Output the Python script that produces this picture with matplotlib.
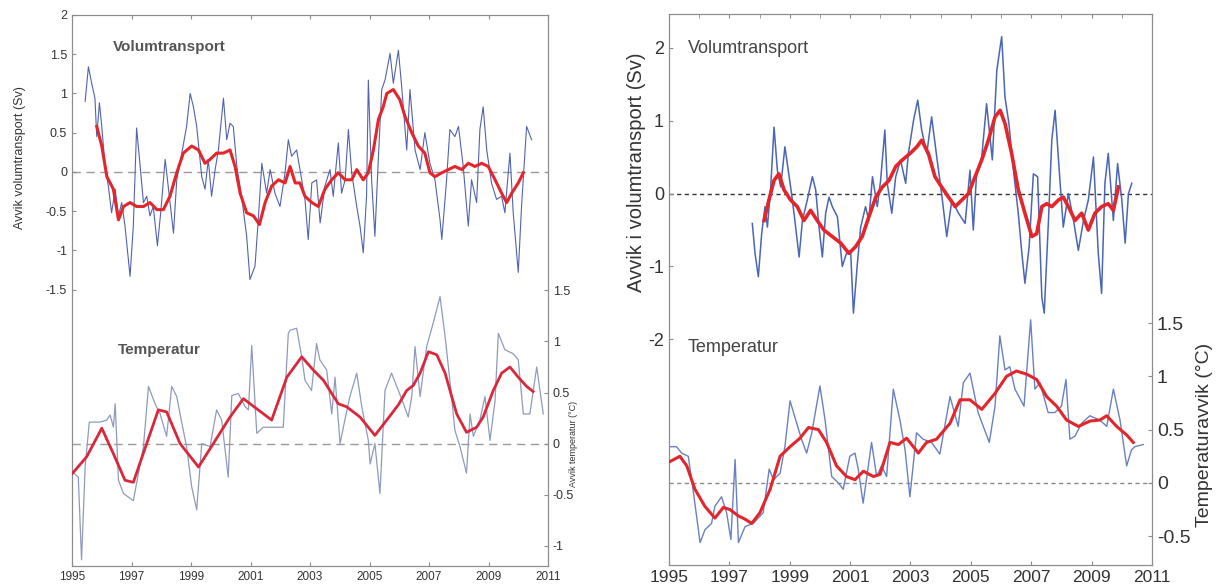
import matplotlib.pyplot as plt
from matplotlib.ticker import MultipleLocator

plt.rcParams['font.family'] = ['Liberation Sans', 'DejaVu Sans']

# ---- left panel data ----
vol_l_years = [1995.44, 1995.55, 1995.66, 1995.77, 1995.83, 1995.92, 1996.00, 1996.11, 1996.22, 1996.33,
               1996.45, 1996.56, 1996.67, 1996.78, 1996.95, 1997.06, 1997.17, 1997.29, 1997.40, 1997.51,
               1997.62, 1997.73, 1997.87, 1997.98, 1998.13, 1998.27, 1998.41, 1998.52, 1998.69, 1998.85,
               1998.97, 1999.08, 1999.19, 1999.36, 1999.47, 1999.58, 1999.69, 1999.81, 1999.92, 2000.09,
               2000.20, 2000.31, 2000.42, 2000.54, 2000.70, 2000.87, 2000.98, 2001.15, 2001.26, 2001.38,
               2001.54, 2001.66, 2001.82, 2001.99, 2002.16, 2002.27, 2002.38, 2002.55, 2002.72,
               2002.83, 2002.94, 2003.06, 2003.22, 2003.34, 2003.50, 2003.67, 2003.78, 2003.95, 2004.06,
               2004.18, 2004.29, 2004.40, 2004.57, 2004.68, 2004.79, 2004.90, 2004.96, 2005.07, 2005.18,
               2005.30, 2005.41, 2005.52, 2005.69, 2005.80, 2005.97, 2006.08, 2006.25, 2006.36, 2006.53,
               2006.70, 2006.86, 2007.03, 2007.20, 2007.37, 2007.43, 2007.59, 2007.70, 2007.87, 2007.99,
               2008.15, 2008.32, 2008.43, 2008.60, 2008.71, 2008.82, 2008.94, 2009.10, 2009.27, 2009.44,
               2009.55, 2009.72, 2009.83, 2010.00, 2010.11, 2010.28, 2010.45]
vol_l = [0.9, 1.34, 1.13, 0.94, 0.45, 0.88, 0.58, 0.07, -0.18, -0.52,
         -0.22, -0.56, -0.39, -0.69, -1.33, -0.69, 0.56, 0.07, -0.39, -0.31,
         -0.56, -0.44, -0.94, -0.52, 0.16, -0.31, -0.78, -0.10, 0.24, 0.58,
         1.0, 0.83, 0.58, -0.06, -0.22, 0.16, -0.31, 0.03, 0.28, 0.94,
         0.41, 0.62, 0.58, 0.07, -0.31, -0.82, -1.37, -1.2, -0.61, 0.11,
         -0.27, 0.03, -0.27, -0.44, -0.01, 0.41, 0.2, 0.28, -0.10,
         -0.35, -0.86, -0.14, -0.1, -0.65, -0.18, 0.03, -0.31, 0.37, -0.27,
         -0.1, 0.54, -0.01, -0.44, -0.69, -1.03, -0.31, 1.17, -0.10, -0.82,
         0.2, 1.05, 1.17, 1.51, 1.13, 1.55, 1.09, 0.28, 1.05, 0.28,
         0.03, 0.5, 0.11, -0.1, -0.61, -0.86, -0.1, 0.54, 0.45, 0.58,
         0.07, -0.69, -0.1, -0.39, 0.54, 0.83, 0.28, -0.14, -0.35, -0.31,
         -0.52, 0.24, -0.52, -1.28, -0.44, 0.58, 0.41]

vol_l_smooth_years = [1995.83, 1996.00, 1996.17, 1996.39, 1996.56, 1996.73, 1996.95, 1997.17, 1997.40, 1997.62,
                      1997.85, 1998.07, 1998.29, 1998.52, 1998.74, 1999.02, 1999.25, 1999.47, 1999.64, 1999.86,
                      2000.09, 2000.31, 2000.48, 2000.65, 2000.87, 2001.10, 2001.30, 2001.49, 2001.71, 2001.94,
                      2002.16, 2002.33, 2002.50, 2002.66, 2002.83, 2003.06, 2003.28, 2003.50, 2003.73, 2003.95,
                      2004.18, 2004.40, 2004.57, 2004.79, 2004.96, 2005.13, 2005.30, 2005.46, 2005.58, 2005.80,
                      2006.02, 2006.19, 2006.42, 2006.64, 2006.86, 2007.03, 2007.20, 2007.43, 2007.65, 2007.87,
                      2008.10, 2008.32, 2008.54, 2008.77, 2008.99, 2009.22, 2009.44, 2009.61, 2009.78, 2010.00,
                      2010.17]
vol_l_smooth = [0.58, 0.33, -0.06, -0.22, -0.61, -0.44, -0.39, -0.44, -0.44, -0.39,
                -0.48, -0.48, -0.31, -0.01, 0.24, 0.33, 0.28, 0.11, 0.16, 0.24,
                0.24, 0.28, 0.07, -0.27, -0.52, -0.56, -0.67, -0.39, -0.18, -0.1,
                -0.14, 0.07, -0.14, -0.14, -0.31, -0.39, -0.44, -0.22, -0.1, -0.01,
                -0.1, -0.1, 0.03, -0.1, -0.01, 0.28, 0.67, 0.83, 1.0, 1.05,
                0.92, 0.71, 0.5, 0.33, 0.24, -0.01, -0.06, -0.01, 0.03, 0.07,
                0.03, 0.11, 0.07, 0.11, 0.07, -0.1, -0.27, -0.39, -0.27, -0.14,
                -0.01]

temp_l_years = [1995.02, 1995.21, 1995.32, 1995.44, 1995.58, 1995.94, 1996.17, 1996.28, 1996.39, 1996.45,
                1996.56, 1996.73, 1997.06, 1997.40, 1997.57, 1997.79, 1997.96, 1998.18, 1998.35, 1998.52,
                1998.63, 1998.85, 1999.02, 1999.19, 1999.36, 1999.64, 1999.86, 2000.03, 2000.25, 2000.37,
                2000.59, 2000.82, 2000.93, 2001.04, 2001.21, 2001.43, 2001.88, 2002.10, 2002.27,
                2002.33, 2002.55, 2002.72, 2002.83, 2003.05, 2003.22, 2003.33, 2003.56, 2003.73, 2003.84,
                2004.01, 2004.17, 2004.34, 2004.57, 2004.74, 2004.96, 2005.02, 2005.18, 2005.35, 2005.52,
                2005.74, 2005.97, 2006.14, 2006.30, 2006.42, 2006.53, 2006.70, 2006.92, 2007.14, 2007.37,
                2007.54, 2007.70, 2007.87, 2008.04, 2008.26, 2008.38, 2008.49, 2008.71, 2008.88, 2009.05,
                2009.22, 2009.33, 2009.55, 2009.83, 2010.00, 2010.17, 2010.39, 2010.62, 2010.84]
temp_l = [-0.28, -0.33, -1.14, -0.23, 0.21, 0.21, 0.23, 0.28, 0.16, 0.39,
          -0.36, -0.49, -0.56, -0.03, 0.56, 0.39, 0.29, 0.07, 0.56, 0.46,
          0.29, -0.03, -0.42, -0.65, 0.0, -0.03, 0.33, 0.23, -0.33, 0.47,
          0.49, 0.36, 0.33, 0.96, 0.1, 0.16, 0.16, 0.16, 1.08,
          1.11, 1.13, 0.85, 0.62, 0.52, 0.98, 0.82, 0.72, 0.29, 0.65,
          0.0, 0.23, 0.46, 0.69, 0.36, 0.03, -0.2, 0.0, -0.49, 0.52,
          0.69, 0.52, 0.39, 0.26, 0.46, 0.95, 0.46, 0.95, 1.18, 1.44,
          1.05, 0.62, 0.13, -0.03, -0.29, 0.29, 0.07, 0.23, 0.46, 0.03,
          0.42, 1.08, 0.92, 0.88, 0.82, 0.29, 0.29, 0.75, 0.29]

temp_l_smooth_years = [1995.02, 1995.49, 1996.00, 1996.39, 1996.78, 1997.06, 1997.51, 1997.90, 1998.18, 1998.63,
                       1999.25, 1999.75, 2000.31, 2000.76, 2001.21, 2001.71, 2002.22, 2002.72, 2003.11, 2003.45,
                       2003.95, 2004.23, 2004.68, 2005.18, 2005.58, 2005.97, 2006.25, 2006.47, 2006.70, 2006.98,
                       2007.26, 2007.54, 2007.93, 2008.26, 2008.60, 2008.82, 2009.16, 2009.44, 2009.72, 2010.00,
                       2010.28, 2010.50]
temp_l_smooth = [-0.29, -0.13, 0.15, -0.1, -0.36, -0.38, 0.0, 0.33, 0.31, 0.0,
                 -0.23, 0.0, 0.26, 0.44, 0.34, 0.23, 0.65, 0.85, 0.72, 0.62,
                 0.39, 0.36, 0.26, 0.08, 0.23, 0.38, 0.52, 0.57, 0.69, 0.9,
                 0.87, 0.69, 0.29, 0.11, 0.16, 0.26, 0.52, 0.69, 0.75, 0.65,
                 0.56, 0.51]

# ---- right panel data ----
vol_r_years = [1997.76, 1997.85, 1997.96, 1998.07, 1998.18, 1998.26, 1998.37, 1998.48, 1998.59, 1998.70,
               1998.84, 1998.95, 1999.06, 1999.17, 1999.31, 1999.42, 1999.58, 1999.75, 1999.86, 1999.97,
               2000.08, 2000.19, 2000.30, 2000.41, 2000.58, 2000.74, 2000.91, 2001.02, 2001.11, 2001.24,
               2001.35, 2001.51, 2001.62, 2001.74, 2001.90, 2002.01, 2002.15, 2002.23, 2002.38, 2002.51,
               2002.67, 2002.84,
               2002.93, 2003.10, 2003.24, 2003.37, 2003.54, 2003.70, 2003.87, 2004.03, 2004.20, 2004.37,
               2004.59, 2004.81, 2004.97, 2005.08, 2005.19, 2005.36, 2005.52, 2005.71, 2005.86, 2006.02,
               2006.13, 2006.26, 2006.41, 2006.57, 2006.68, 2006.79, 2006.93, 2007.07, 2007.21, 2007.35,
               2007.43, 2007.57, 2007.68, 2007.79, 2007.95, 2008.06, 2008.23, 2008.40, 2008.56, 2008.73,
               2008.89, 2009.06, 2009.22, 2009.33, 2009.44, 2009.55, 2009.72, 2009.86, 2010.00, 2010.11,
               2010.22, 2010.33]
vol_r = [-0.41, -0.82, -1.14, -0.55, -0.18, -0.46, 0.09, 0.91, 0.32, 0.09,
         0.64, 0.32, 0.0, -0.37, -0.87, -0.37, -0.09, 0.23, 0.05, -0.46,
         -0.87, -0.27, -0.05, -0.18, -0.32, -1.0, -0.78, -0.82, -1.64, -0.96,
         -0.46, -0.18, -0.37, 0.23, -0.18, 0.18, 0.87, 0.14, -0.27, 0.23,
         0.46, 0.14,
         0.55, 1.0, 1.28, 0.87, 0.55, 1.05, 0.5, 0.0, -0.59, -0.09,
         -0.27, -0.41, 0.32, -0.5, 0.27, 0.5, 1.23, 0.46, 1.69, 2.15,
         1.32, 0.96, 0.32, -0.27, -0.78, -1.23, -0.73, 0.27, 0.23, -1.42,
         -1.64, -0.37, 0.73, 1.14, 0.18, -0.46, 0.0, -0.37, -0.78, -0.37,
         -0.09, 0.5, -0.82, -1.37, 0.14, 0.55, -0.37, 0.41, -0.09, -0.68,
         0.0, 0.14]

vol_r_smooth_years = [1998.15, 1998.31, 1998.48, 1998.64, 1998.81, 1999.03, 1999.25, 1999.47, 1999.69, 1999.91,
                      2000.13, 2000.41, 2000.69, 2000.96, 2001.18, 2001.40, 2001.62, 2001.85, 2002.07, 2002.29,
                      2002.51, 2002.73,
                      2002.99, 2003.21, 2003.37, 2003.59, 2003.81, 2004.03, 2004.26, 2004.48, 2004.70, 2004.92,
                      2005.14, 2005.36, 2005.58, 2005.80, 2005.97, 2006.13, 2006.35, 2006.57, 2006.79, 2007.02,
                      2007.18, 2007.35, 2007.51, 2007.68, 2007.90, 2008.06, 2008.23, 2008.45, 2008.67, 2008.89,
                      2009.11, 2009.33, 2009.55, 2009.72, 2009.89]
vol_r_smooth = [-0.37, -0.09, 0.18, 0.27, 0.05, -0.09, -0.18, -0.37, -0.23, -0.37,
                -0.5, -0.59, -0.68, -0.82, -0.73, -0.59, -0.32, -0.05, 0.09, 0.18,
                0.37, 0.46,
                0.55, 0.64, 0.73, 0.55, 0.23, 0.09, -0.05, -0.18, -0.09, 0.0,
                0.23, 0.46, 0.73, 1.05, 1.14, 0.96, 0.55, 0.05, -0.27, -0.59,
                -0.55, -0.18, -0.14, -0.18, -0.09, -0.05, -0.18, -0.37, -0.27, -0.5,
                -0.27, -0.18, -0.14, -0.23, 0.09]

temp_r_years = [1995.03, 1995.25, 1995.42, 1995.64, 1995.81, 1996.03, 1996.19, 1996.41, 1996.52, 1996.74,
                1996.91, 1997.05, 1997.19, 1997.30, 1997.52, 1997.79, 1998.12, 1998.32, 1998.46, 1998.68,
                1998.84, 1999.01, 1999.23, 1999.39, 1999.56, 1999.73, 2000.00, 2000.17, 2000.39, 2000.61,
                2000.77, 2000.99, 2001.16, 2001.27, 2001.43, 2001.54, 2001.71, 2001.88, 2002.04, 2002.21,
                2002.43, 2002.65, 2002.82,
                2002.98, 2003.20, 2003.42, 2003.70, 2003.97, 2004.31, 2004.58, 2004.75, 2004.97, 2005.24,
                2005.61, 2005.80, 2005.96, 2006.13, 2006.29, 2006.46, 2006.76, 2006.98, 2007.12, 2007.29,
                2007.56, 2007.78, 2008.00, 2008.15, 2008.28, 2008.45, 2008.67, 2008.94, 2009.27, 2009.50,
                2009.72, 2009.94, 2010.16, 2010.32, 2010.43, 2010.71]
temp_r = [0.34, 0.34, 0.28, 0.25, -0.09, -0.56, -0.44, -0.38, -0.22, -0.13,
          -0.28, -0.53, 0.22, -0.56, -0.41, -0.38, -0.28, 0.13, 0.03, 0.09,
          0.34, 0.77, 0.56, 0.41, 0.28, 0.47, 0.91, 0.59, 0.06, 0.0,
          -0.06, 0.25, 0.28, 0.13, -0.19, 0.03, 0.38, 0.06, 0.16, 0.06,
          0.88, 0.59, 0.31,
          -0.13, 0.47, 0.41, 0.38, 0.27, 0.81, 0.53, 0.94, 1.03, 0.66,
          0.38, 0.72, 1.38, 1.06, 1.09, 0.88, 0.72, 1.53, 0.88, 0.94,
          0.66, 0.66, 0.72, 0.97, 0.41, 0.44, 0.56, 0.63, 0.59, 0.53,
          0.88, 0.59, 0.16, 0.31, 0.34, 0.36]

temp_r_smooth_years = [1995.03, 1995.36, 1995.59, 1995.86, 1996.19, 1996.52, 1996.80, 1997.02, 1997.30, 1997.52,
                       1997.74, 1998.01, 1998.35, 1998.68, 1999.01, 1999.34, 1999.62, 1999.95, 2000.22, 2000.55,
                       2000.88, 2001.16, 2001.44, 2001.77, 2001.99, 2002.32, 2002.60, 2002.87,
                       2003.26, 2003.53, 2003.86, 2004.31, 2004.64, 2004.97, 2005.36, 2005.80, 2006.18, 2006.51,
                       2006.85, 2007.18, 2007.51, 2007.84, 2008.17, 2008.56, 2008.94, 2009.27, 2009.50, 2009.83,
                       2010.16, 2010.38]
temp_r_smooth = [0.2, 0.25, 0.16, -0.06, -0.22, -0.33, -0.23, -0.25, -0.31, -0.34,
                 -0.38, -0.28, -0.06, 0.25, 0.34, 0.42, 0.52, 0.5, 0.38, 0.16,
                 0.06, 0.03, 0.11, 0.06, 0.08, 0.38, 0.36, 0.42,
                 0.28, 0.38, 0.41, 0.56, 0.78, 0.78, 0.69, 0.84, 1.0, 1.05,
                 1.02, 0.97, 0.81, 0.72, 0.59, 0.53, 0.58, 0.59, 0.63, 0.53,
                 0.45, 0.38]

year_ticks = [1995, 1997, 1999, 2001, 2003, 2005, 2007, 2009, 2011]
vol_l_ticks = [-1.5, -1, -0.5, 0, 0.5, 1, 1.5, 2]
temp_l_ticks = [-1, -0.5, 0, 0.5, 1, 1.5]
vol_r_ticks = [-2, -1, 0, 1, 2]
temp_r_ticks = [-0.5, 0, 0.5, 1, 1.5]

RED = '#e3262b'
SPINE = '#8c8c8c'


def fmt(v):
    # 1.5 -> "1.5", 1.0 -> "1"
    return ('%g' % v)


def style_axes(ax, size, color):
    for s in ax.spines.values():
        s.set_color(SPINE)
    ax.tick_params(direction='in', colors=SPINE, labelcolor=color, labelsize=size, length=3)


fig = plt.figure(figsize=(12.17, 5.87), dpi=100)

# ---------------- left panel ----------------
ax1 = fig.add_axes([0.0592, 0.0358, 0.3911, 0.9387])
ax1.axhline(0, color='#9a9a9a', lw=1, dashes=(6, 4), zorder=1)
ax1.plot(vol_l_years, vol_l, color='#5262b0', lw=0.8, zorder=2)
ax1.plot(vol_l_smooth_years, vol_l_smooth, color=RED, lw=2.2, zorder=3)
ax1.set_xlim(1995, 2011)
ax1.set_ylim(-5.02, 2.0)
ax1.set_xticks(year_ticks)
ax1.set_xticklabels([str(y) for y in year_ticks])
ax1.set_yticks(vol_l_ticks)
ax1.set_yticklabels([fmt(v) for v in vol_l_ticks])
style_axes(ax1, 9, '#333333')
ax1.tick_params(axis='x', labelsize=8.5)
ax1.tick_params(top=True, right=False)
ax1.text(0.086, 0.942, 'Volumtransport', transform=ax1.transAxes, fontsize=11,
         fontweight='bold', color='#555555', va='center')

ax1t = ax1.twinx()
ax1t.axhline(0, color='#9a9a9a', lw=1, dashes=(6, 4), zorder=1)
ax1t.plot(temp_l_years, temp_l, color='#8f9bbd', lw=0.9, zorder=2)
ax1t.plot(temp_l_smooth_years, temp_l_smooth, color='#d9283c', lw=2.0, zorder=3)
ax1t.set_ylim(-1.2, 4.2)
ax1t.set_yticks(temp_l_ticks)
ax1t.set_yticklabels([fmt(v) for v in temp_l_ticks])
style_axes(ax1t, 9, '#333333')
ax1t.text(0.097, 0.392, 'Temperatur', transform=ax1.transAxes, fontsize=11,
          fontweight='bold', color='#555555', va='center')

fig.text(0.0164, 0.731, 'Avvik volumtransport (Sv)', rotation=90, fontsize=9,
         color='#333333', ha='center', va='center')
fig.text(0.471, 0.243, 'Avvik temperatur (°C)', rotation=90, fontsize=6.5,
         color='#333333', ha='center', va='center')

# ---------------- right panel ----------------
ax2 = fig.add_axes([0.5497, 0.0375, 0.3969, 0.9387])
ax2.axhline(0, color='#333333', lw=1, dashes=(3, 2.5), zorder=1)
ax2.plot(vol_r_years, vol_r, color='#4a66b4', lw=1.1, zorder=2)
ax2.plot(vol_r_smooth_years, vol_r_smooth, color=RED, lw=2.6, zorder=3)
ax2.set_xlim(1995, 2011)
ax2.set_ylim(-5.09, 2.46)
ax2.set_xticks(year_ticks)
ax2.set_xticklabels([str(y) for y in year_ticks])
ax2.xaxis.set_minor_locator(MultipleLocator(1))
ax2.set_yticks(vol_r_ticks)
ax2.set_yticklabels([fmt(v) for v in vol_r_ticks])
style_axes(ax2, 13, '#333333')
ax2.tick_params(axis='x', labelsize=12.5)
ax2.tick_params(top=True, right=False)
ax2.tick_params(which='minor', direction='in', top=True, bottom=False, colors=SPINE, length=3)
ax2.text(0.039, 0.938, 'Volumtransport', transform=ax2.transAxes, fontsize=13,
         color='#444444', va='center')

ax2t = ax2.twinx()
ax2t.axhline(0, color='#8a8a8a', lw=1, dashes=(3, 2.5), zorder=1)
ax2t.plot(temp_r_years, temp_r, color='#6a80c2', lw=1.0, zorder=2)
ax2t.plot(temp_r_smooth_years, temp_r_smooth, color=RED, lw=2.2, zorder=3)
ax2t.set_ylim(-0.77, 4.40)
ax2t.set_yticks(temp_r_ticks)
ax2t.set_yticklabels([fmt(v) for v in temp_r_ticks])
style_axes(ax2t, 14, '#333333')
ax2t.text(0.039, 0.394, 'Temperatur', transform=ax2.transAxes, fontsize=13,
          color='#444444', va='center')

fig.text(0.5226, 0.707, 'Avvik i volumtransport (Sv)', rotation=90, fontsize=14.5,
         color='#333333', ha='center', va='center')
fig.text(0.990, 0.259, 'Temperaturavvik (°C)', rotation=90, fontsize=14,
         color='#333333', ha='center', va='center')

fig.savefig('out.png', dpi=100)
